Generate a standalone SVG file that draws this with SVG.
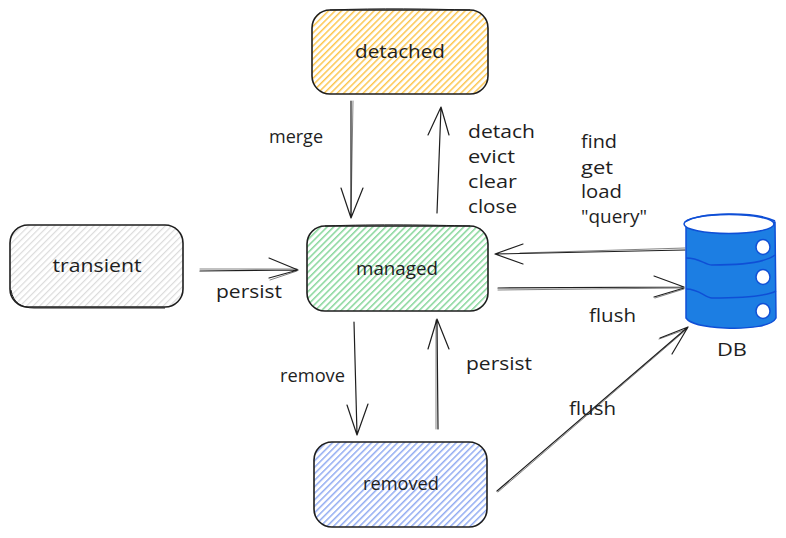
<svg xmlns="http://www.w3.org/2000/svg" width="786" height="538" viewBox="0 0 786 538">
<style>
text{font-family:"Open Sans","Liberation Sans",sans-serif;font-size:18px;fill:#1e1e1e}
.m{text-anchor:middle}
.box{stroke:#1e1e1e;stroke-width:1.6;stroke-linejoin:round}
.o{fill:none;stroke:#1e1e1e;stroke-width:1}
.c{fill:none;stroke:#1e1e1e;stroke-width:1.2;stroke-linecap:round;stroke-linejoin:round}
.s{fill:none;stroke:#1e1e1e;stroke-width:1;stroke-opacity:.55;stroke-linecap:round}
.db{stroke:#0f4fd6;stroke-width:1.5;stroke-linejoin:round}
</style>
<defs>
<pattern id="hy" width="4.6" height="4.6" patternUnits="userSpaceOnUse" patternTransform="rotate(45)"><rect width="4.6" height="4.6" fill="#fff"/><rect width="1.5" height="4.6" fill="#fcc64f"/></pattern>
<pattern id="hg" width="4.6" height="4.6" patternUnits="userSpaceOnUse" patternTransform="rotate(45)"><rect width="4.6" height="4.6" fill="#fff"/><rect width="1.5" height="4.6" fill="#86d69a"/></pattern>
<pattern id="hb" width="4.6" height="4.6" patternUnits="userSpaceOnUse" patternTransform="rotate(45)"><rect width="4.6" height="4.6" fill="#fff"/><rect width="1.5" height="4.6" fill="#92acf2"/></pattern>
<pattern id="hw" width="4.6" height="4.6" patternUnits="userSpaceOnUse" patternTransform="rotate(45)"><rect width="4.6" height="4.6" fill="#fff"/><rect width="1.2" height="4.6" fill="#dcdcdc"/></pattern>
</defs>
<g id="connectors">
<path class="c" d="M351 101L351 218M341 188L351 218L363 188"/><path class="s" d="M353 101L351 217"/>
<path class="c" d="M437 213L441 107M428 135L441 107L449 135"/>
<path class="c" d="M200 271L298 270M269 258L298 270L269 278"/><path class="s" d="M200 269L297 269M270 280L297 271"/>
<path class="c" d="M354 322L357 434M347 405L357 435L368 404"/>
<path class="c" d="M438 429L437 320M428 349L437 319L449 349"/><path class="s" d="M436 429L436 320"/>
<path class="c" d="M685 250L496 254M523 244L495 254L523 264"/><path class="s" d="M685 248L520 253"/>
<path class="c" d="M498 288L683 287M654 276L684 287"/><path class="s" d="M498 290L683 288"/><path class="c" d="M654 297L684 288"/><path class="s" d="M655 298L684 289"/>
<path class="c" d="M497 491L688 327M672 354L688 327L660 338"/><path class="s" d="M498 492L687 329M659 339L687 329"/>
</g>
<g id="node-detached">
<rect class="box" x="312" y="10" width="176" height="84" rx="18" fill="url(#hy)"/>
<path class="o" d="M330 10C380 8 430 9 470 10"/>
<text class="m" x="400" y="58" textLength="90" lengthAdjust="spacingAndGlyphs">detached</text>
</g>
<g id="node-transient">
<rect class="box" x="10" y="225" width="173" height="82" rx="18" fill="url(#hw)"/>
<path class="o" d="M11 290C13 303 22 308 34 308L165 308"/>
<text class="m" x="97" y="272" textLength="89" lengthAdjust="spacingAndGlyphs">transient</text>
</g>
<g id="node-managed">
<rect class="box" x="307" y="226" width="181" height="85" rx="18" fill="url(#hg)"/>
<path class="o" d="M325 226C380 224 430 225 470 226"/>
<text class="m" x="397" y="275" textLength="82" lengthAdjust="spacingAndGlyphs">managed</text>
</g>
<g id="node-removed">
<rect class="box" x="314" y="442" width="173" height="85" rx="18" fill="url(#hb)"/>
<text class="m" x="401" y="490" textLength="76" lengthAdjust="spacingAndGlyphs">removed</text>
</g>
<g id="node-db">
<path class="db" d="M686 224L686 318C690 324 705 327 725 328C750 329 772 326 776 318L775 222Z" fill="#1c7ee3"/>
<ellipse class="db" cx="729" cy="224" rx="45" ry="9.500" fill="#fff"/>
<path class="db" d="M685 222C700 212 755 211 775 221" fill="none"/>
<path class="db" d="M686 258C700 258 705 265 712 265C735 265 765 263 775 255" fill="none"/>
<path class="db" d="M686 289C700 289 705 298 712 298C735 298 765 297 776 291" fill="none"/>
<ellipse class="db" cx="763" cy="247" rx="7" ry="7.500" fill="#fff"/>
<ellipse class="db" cx="763" cy="277" rx="7" ry="7.500" fill="#fff"/>
<ellipse class="db" cx="763" cy="311" rx="7" ry="7.500" fill="#fff"/>
<text x="717" y="356" textLength="30" lengthAdjust="spacingAndGlyphs">DB</text>
</g>
<g id="labels">
<text x="269" y="143" textLength="54" lengthAdjust="spacingAndGlyphs">merge</text>
<text x="468" y="138" textLength="67" lengthAdjust="spacingAndGlyphs">detach</text>
<text x="468" y="163" textLength="47" lengthAdjust="spacingAndGlyphs">evict</text>
<text x="468" y="188" textLength="49" lengthAdjust="spacingAndGlyphs">clear</text>
<text x="468" y="213" textLength="49" lengthAdjust="spacingAndGlyphs">close</text>
<text x="581" y="148" textLength="36" lengthAdjust="spacingAndGlyphs">find</text>
<text x="581" y="174" textLength="32" lengthAdjust="spacingAndGlyphs">get</text>
<text x="581" y="198" textLength="41" lengthAdjust="spacingAndGlyphs">load</text>
<text x="581" y="223" textLength="66" lengthAdjust="spacingAndGlyphs">"query"</text>
<text x="216" y="298" textLength="66" lengthAdjust="spacingAndGlyphs">persist</text>
<text x="589" y="322" textLength="47" lengthAdjust="spacingAndGlyphs">flush</text>
<text x="280" y="382" textLength="65" lengthAdjust="spacingAndGlyphs">remove</text>
<text x="466" y="370" textLength="66" lengthAdjust="spacingAndGlyphs">persist</text>
<text x="569" y="415" textLength="47" lengthAdjust="spacingAndGlyphs">flush</text>
</g>
</svg>
